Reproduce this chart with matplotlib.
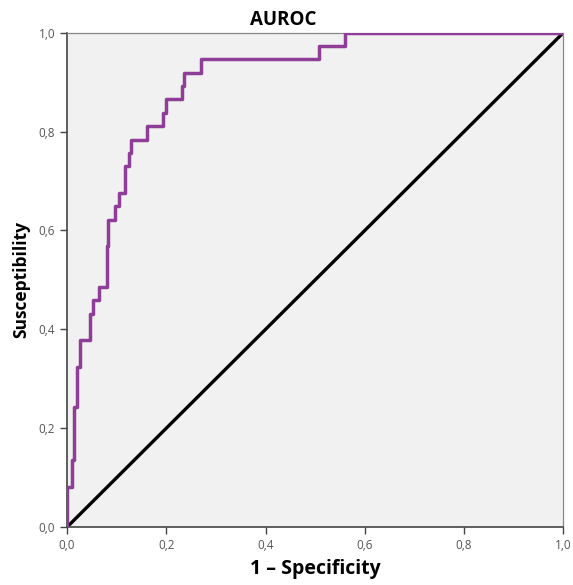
from matplotlib import pyplot as plt
import numpy as np

# ROC corner points (steps-post)
fpr = [0.0, 0.0, 0.009, 0.014, 0.021, 0.027, 0.047, 0.053, 0.065, 0.080,
       0.083, 0.097, 0.105, 0.117, 0.124, 0.128, 0.161, 0.194, 0.199, 0.231,
       0.236, 0.270, 0.508, 0.560, 1.0]
tpr = [0.0, 0.081, 0.135, 0.243, 0.324, 0.378, 0.432, 0.459, 0.486, 0.568,
       0.622, 0.649, 0.676, 0.730, 0.757, 0.784, 0.811, 0.838, 0.865, 0.892,
       0.919, 0.946, 0.973, 1.0, 1.0]

ref_x = [0.0, 1.0]
ref_y = [0.0, 1.0]

ticks = [0.0, 0.2, 0.4, 0.6, 0.8, 1.0]
tick_labels = ['0,0', '0,2', '0,4', '0,6', '0,8', '1,0']


def main():
    plt.rcParams['font.family'] = ['Open Sans', 'DejaVu Sans']

    fig = plt.figure(figsize=(5.73, 5.85), dpi=100)
    ax = fig.add_axes([0.117, 0.099, 0.866, 0.845])
    ax.set_facecolor('#f1f1f1')

    ax.plot(ref_x, ref_y, c='k', lw=2.4, solid_capstyle='butt', zorder=2)
    ax.plot(fpr, tpr, c='#8e3e96', lw=2.5, drawstyle='steps-post', zorder=3)

    ax.set_xlim(0, 1)
    ax.set_ylim(0, 1)
    ax.set_xticks(ticks)
    ax.set_xticklabels(tick_labels)
    ax.set_yticks(ticks)
    ax.set_yticklabels(tick_labels)
    ax.tick_params(direction='out', length=5, width=1, colors='#444444',
                   labelsize=8.5, labelcolor='#555555', top=False, right=False)

    for side in ['left', 'bottom']:
        ax.spines[side].set_color('#444444')
        ax.spines[side].set_linewidth(1.2)
    for side in ['top', 'right']:
        ax.spines[side].set_color('#888888')
        ax.spines[side].set_linewidth(0.9)

    # title sits centred on the figure, not the axes
    fig.text(0.494, 0.957, 'AUROC', fontsize=13.5, fontweight='bold',
             ha='center', va='baseline')
    ax.set_xlabel('1 \u2013 Specificity', fontsize=14, fontweight='bold', labelpad=5)
    ax.set_ylabel('Susceptibility', fontsize=12.5, fontweight='bold', labelpad=6)

    fig.savefig('out.png', dpi=100)
    plt.close(fig)


if __name__ == '__main__': main()
